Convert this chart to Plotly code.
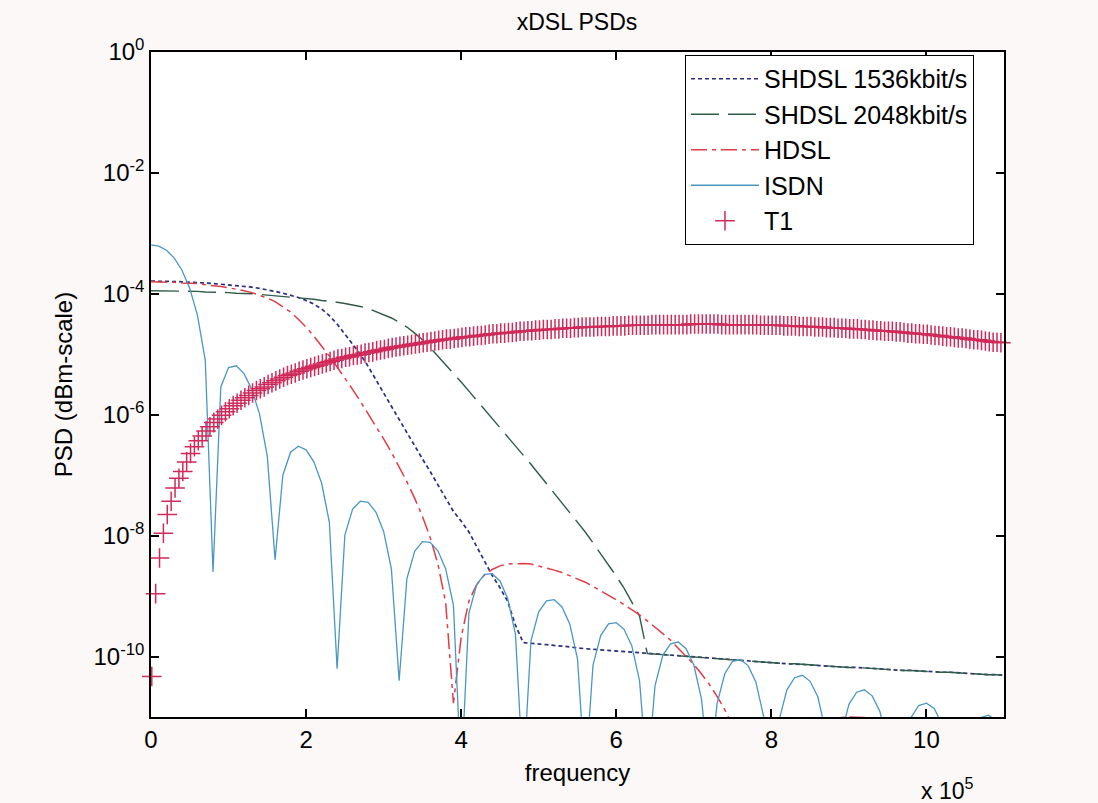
import plotly.graph_objects as go

# ---------------- data (log10 of PSD) ----------------
F_GRID_KHZ = list(range(0, 1101, 10))          # sample grid for the line series
T1_FREQ_KHZ = list(range(1, 1100, 5))          # sample grid of the T1 markers

SHDSL1536_LOG = [
    -3.79, -3.79, -3.79, -3.80, -3.80, -3.81, -3.81, -3.82, -3.83, -3.84,
    -3.85, -3.86, -3.88, -3.89, -3.91, -3.93, -3.96, -3.99, -4.02, -4.06,
    -4.11, -4.17, -4.25, -4.36, -4.50, -4.66, -4.83, -5.00, -5.20, -5.41,
    -5.64, -5.86, -6.08, -6.31, -6.53, -6.73, -6.94, -7.16, -7.40, -7.60,
    -7.76, -7.94, -8.18, -8.43, -8.66, -8.86, -9.09, -9.48, -9.77, -9.78,
    -9.79, -9.81, -9.82, -9.83, -9.84, -9.86, -9.87, -9.88, -9.89, -9.90,
    -9.91, -9.92, -9.93, -9.94, -9.95, -9.96, -9.97, -9.98, -9.99, -10.00,
    -10.01, -10.02, -10.03, -10.04, -10.05, -10.06, -10.07, -10.08, -10.08, -10.09,
    -10.10, -10.11, -10.12, -10.12, -10.13, -10.14, -10.15, -10.15, -10.16, -10.17,
    -10.18, -10.18, -10.19, -10.20, -10.21, -10.21, -10.22, -10.23, -10.23, -10.24,
    -10.25, -10.25, -10.26, -10.26, -10.27, -10.28, -10.28, -10.29, -10.30, -10.30,
    -10.31,
]

SHDSL2048_LOG = [
    -3.95, -3.95, -3.95, -3.95, -3.96, -3.96, -3.96, -3.97, -3.97, -3.98,
    -3.98, -3.99, -3.99, -4.00, -4.01, -4.02, -4.03, -4.04, -4.05, -4.06,
    -4.08, -4.09, -4.11, -4.12, -4.14, -4.16, -4.18, -4.21, -4.24, -4.29,
    -4.34, -4.40, -4.47, -4.55, -4.65, -4.76, -4.89, -5.03, -5.17, -5.31,
    -5.46, -5.61, -5.76, -5.91, -6.06, -6.21, -6.36, -6.51, -6.67, -6.82,
    -6.98, -7.14, -7.29, -7.45, -7.61, -7.78, -7.94, -8.12, -8.30, -8.48,
    -8.67, -8.87, -9.09, -9.33, -9.95, -9.96, -9.97, -9.98, -9.99, -10.00,
    -10.01, -10.02, -10.03, -10.04, -10.05, -10.06, -10.07, -10.08, -10.08, -10.09,
    -10.10, -10.11, -10.12, -10.12, -10.13, -10.14, -10.15, -10.15, -10.16, -10.17,
    -10.18, -10.18, -10.19, -10.20, -10.21, -10.21, -10.22, -10.23, -10.23, -10.24,
    -10.25, -10.25, -10.26, -10.26, -10.27, -10.28, -10.28, -10.29, -10.30, -10.30,
    -10.31,
]

HDSL_LOG = [
    -3.80, -3.80, -3.80, -3.81, -3.82, -3.82, -3.83, -3.85, -3.86, -3.88,
    -3.90, -3.92, -3.95, -3.98, -4.02, -4.07, -4.13, -4.21, -4.30, -4.42,
    -4.55, -4.70, -4.86, -5.03, -5.21, -5.39, -5.58, -5.78, -5.98, -6.19,
    -6.40, -6.62, -6.86, -7.11, -7.38, -7.68, -8.03, -8.47, -9.11, -10.77,
    -9.68, -9.08, -8.81, -8.65, -8.56, -8.50, -8.47, -8.46, -8.46, -8.47,
    -8.50, -8.53, -8.57, -8.61, -8.66, -8.71, -8.77, -8.84, -8.91, -8.98,
    -9.06, -9.14, -9.22, -9.31, -9.41, -9.51, -9.62, -9.73, -9.86, -9.99,
    -10.13, -10.29, -10.46, -10.66, -10.88, -11.16, -11.52, -12.00, -13.00, -13.00,
    -12.09, -11.72, -11.50, -11.35, -11.24, -11.16, -11.10, -11.06, -11.03, -11.01,
    -11.00, -11.00, -11.01, -11.03, -11.05, -11.07, -11.10, -11.13, -11.17, -11.22,
    -11.28, -11.34, -11.41, -11.49, -11.58, -11.68, -11.80, -11.93, -12.10, -12.30,
    -12.50,
]

ISDN_LOG = [
    -3.19, -3.21, -3.28, -3.41, -3.61, -3.91, -4.36, -5.10, -8.60, -5.54,
    -5.22, -5.19, -5.32, -5.58, -5.99, -6.69, -8.40, -7.00, -6.62, -6.52,
    -6.58, -6.78, -7.13, -7.78, -10.20, -7.99, -7.56, -7.43, -7.45, -7.61,
    -7.93, -8.55, -10.40, -8.71, -8.26, -8.10, -8.11, -8.25, -8.55, -9.15,
    -12.00, -9.28, -8.81, -8.64, -8.63, -8.75, -9.04, -9.63, -12.00, -9.74,
    -9.26, -9.08, -9.06, -9.18, -9.46, -10.04, -12.00, -10.14, -9.65, -9.46,
    -9.44, -9.55, -9.82, -10.40, -12.00, -10.48, -9.98, -9.79, -9.76, -9.87,
    -10.14, -10.71, -12.00, -10.78, -10.28, -10.08, -10.05, -10.15, -10.42, -10.99,
    -12.00, -11.05, -10.55, -10.35, -10.31, -10.41, -10.67, -11.24, -12.00, -11.30,
    -10.79, -10.59, -10.55, -10.65, -10.91, -11.47, -12.50, -11.52, -11.01, -10.81,
    -10.77, -10.86, -11.12, -11.68, -12.50, -11.73, -11.22, -11.01, -10.97, -11.06,
    -11.32,
]

T1_LOG = [
    -10.33, -8.96, -8.37, -7.96, -7.65, -7.43, -7.21, -7.05, -6.94, -6.78,
    -6.64, -6.53, -6.43, -6.35, -6.27, -6.20, -6.13, -6.07, -6.01, -5.95,
    -5.90, -5.85, -5.81, -5.76, -5.72, -5.68, -5.64, -5.60, -5.57, -5.54,
    -5.50, -5.47, -5.44, -5.41, -5.38, -5.35, -5.33, -5.31, -5.28, -5.26,
    -5.24, -5.22, -5.20, -5.18, -5.16, -5.14, -5.12, -5.10, -5.08, -5.07,
    -5.05, -5.04, -5.02, -5.01, -5.00, -4.98, -4.97, -4.96, -4.94, -4.93,
    -4.92, -4.90, -4.89, -4.88, -4.87, -4.86, -4.85, -4.84, -4.83, -4.82,
    -4.81, -4.80, -4.79, -4.78, -4.77, -4.76, -4.75, -4.75, -4.74, -4.73,
    -4.72, -4.71, -4.71, -4.70, -4.69, -4.69, -4.68, -4.67, -4.66, -4.66,
    -4.65, -4.65, -4.64, -4.64, -4.63, -4.62, -4.62, -4.61, -4.61, -4.60,
    -4.60, -4.59, -4.59, -4.59, -4.58, -4.58, -4.57, -4.57, -4.57, -4.56,
    -4.56, -4.55, -4.55, -4.55, -4.55, -4.54, -4.54, -4.54, -4.54, -4.53,
    -4.53, -4.53, -4.53, -4.52, -4.52, -4.52, -4.52, -4.52, -4.52, -4.51,
    -4.51, -4.51, -4.51, -4.51, -4.51, -4.51, -4.51, -4.51, -4.51, -4.50,
    -4.50, -4.50, -4.50, -4.50, -4.50, -4.50, -4.50, -4.51, -4.51, -4.51,
    -4.51, -4.51, -4.51, -4.51, -4.51, -4.51, -4.51, -4.52, -4.52, -4.52,
    -4.52, -4.52, -4.52, -4.53, -4.53, -4.53, -4.53, -4.54, -4.54, -4.54,
    -4.54, -4.55, -4.55, -4.55, -4.56, -4.56, -4.56, -4.57, -4.57, -4.57,
    -4.58, -4.58, -4.58, -4.59, -4.59, -4.60, -4.60, -4.61, -4.61, -4.62,
    -4.62, -4.62, -4.63, -4.63, -4.64, -4.65, -4.65, -4.66, -4.66, -4.67,
    -4.67, -4.68, -4.69, -4.69, -4.70, -4.71, -4.71, -4.72, -4.73, -4.73,
    -4.74, -4.75, -4.76, -4.76, -4.77, -4.78, -4.79, -4.80, -4.80, -4.81,
]

SERIES_NAMES = ["SHDSL 1536kbit/s", "SHDSL 2048kbit/s", "HDSL", "ISDN", "T1"]
X_TICK_VALUES_E5 = [0, 2, 4, 6, 8, 10]
Y_TICK_EXPONENTS = [0, -2, -4, -6, -8, -10]

for name, arr in [("1536", SHDSL1536_LOG), ("2048", SHDSL2048_LOG),
                  ("HDSL", HDSL_LOG), ("ISDN", ISDN_LOG)]:
    assert len(arr) == len(F_GRID_KHZ), (name, len(arr))
assert len(T1_LOG) == len(T1_FREQ_KHZ), len(T1_LOG)

# ---------------- figure ----------------
FONT = "Liberation Sans, Arial, sans-serif"
hz = [f * 1000 for f in F_GRID_KHZ]
t1_hz = [f * 1000 for f in T1_FREQ_KHZ]
lin = lambda a: [10 ** v for v in a]

fig = go.Figure()
fig.add_trace(go.Scatter(x=hz, y=lin(SHDSL1536_LOG), mode="lines", name=SERIES_NAMES[0],
                         line=dict(color="#2b2e7e", width=1.7, dash="4px,3px")))
fig.add_trace(go.Scatter(x=hz, y=lin(SHDSL2048_LOG), mode="lines", name=SERIES_NAMES[1],
                         line=dict(color="#2f5c46", width=1.4, dash="28px,9px")))
fig.add_trace(go.Scatter(x=hz, y=lin(HDSL_LOG), mode="lines", name=SERIES_NAMES[2],
                         line=dict(color="#e03c48", width=1.5, dash="16px,5px,4px,5px")))
fig.add_trace(go.Scatter(x=hz, y=lin(ISDN_LOG), mode="lines", name=SERIES_NAMES[3],
                         line=dict(color="#4b97c2", width=1.3)))
fig.add_trace(go.Scatter(x=t1_hz, y=lin(T1_LOG), mode="markers", name=SERIES_NAMES[4],
                         cliponaxis=False,
                         marker=dict(symbol="cross-thin", size=14,
                                     line=dict(width=1.5, color="#d02a5a"))))

axis_common = dict(showline=True, linecolor="black", linewidth=1.5, mirror="ticks",
                   ticks="inside", ticklen=8, tickwidth=1.5, tickcolor="black",
                   showgrid=False, zeroline=False,
                   tickfont=dict(family=FONT, size=24, color="black"))

fig.update_layout(
    width=1098, height=803, autosize=False,
    margin=dict(l=151, r=94, t=52, b=86),
    paper_bgcolor="#fcf8f8", plot_bgcolor="#ffffff",
    font=dict(family=FONT, size=24, color="black"),
    title=dict(text="xDSL PSDs", x=0.5255, xanchor="center", y=0.973, yanchor="middle",
               font=dict(family=FONT, size=23, color="black")),
    xaxis=dict(range=[0, 1.1e6], tickvals=[v * 1e5 for v in X_TICK_VALUES_E5],
               ticktext=[str(v) for v in X_TICK_VALUES_E5],
               title=dict(text="frequency", standoff=13,
                          font=dict(family=FONT, size=24, color="black")),
               **axis_common),
    yaxis=dict(type="log", range=[-11, 0], tickvals=[10.0 ** e for e in Y_TICK_EXPONENTS],
               ticktext=["10<sup>%d</sup>" % e for e in Y_TICK_EXPONENTS],
               title=dict(text="PSD (dBm-scale)", standoff=14,
                          font=dict(family=FONT, size=24, color="black")),
               **axis_common),
    legend=dict(x=0.626, y=0.9955, xanchor="left", yanchor="top",
                bgcolor="#ffffff", bordercolor="black", borderwidth=1,
                itemwidth=68,
                font=dict(family=FONT, size=25, color="black")),
    showlegend=True,
)

fig.add_annotation(text="x 10<sup>5</sup>", xref="paper", yref="paper",
                   x=0.966, y=-0.108, xanchor="right", yanchor="middle",
                   showarrow=False, font=dict(family=FONT, size=23, color="black"))

fig.write_html(
    "out.html",
    config={"displayModeBar": False},
    post_script="document.body.style.margin='0px';document.body.style.overflow='hidden';",
)
